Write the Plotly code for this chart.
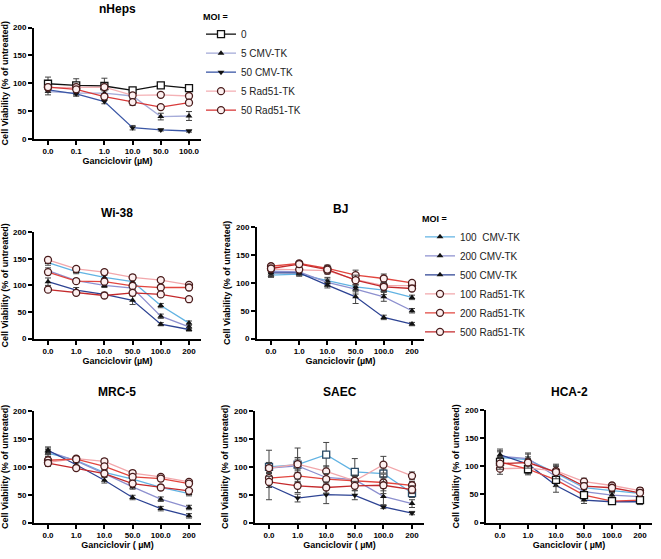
import plotly.graph_objects as go

W, H = 661, 559
FONT = "Liberation Sans, Arial, sans-serif"

# ---------------- data ----------------
nheps_x = ["0.0", "0.1", "1.0", "10.0", "50.0", "100.0"]
gcv_x = ["0.0", "1.0", "10.0", "50.0", "100.0", "200"]
y_ticks = [0, 50, 100, 150, 200]

nheps_names = ["0", "5 CMV-TK", "50 CMV-TK", "5 Rad51-TK", "50 Rad51-TK"]
moi_names = ["100  CMV-TK", "200 CMV-TK", "500 CMV-TK", "100 Rad51-TK", "200 Rad51-TK", "500 Rad51-TK"]

nheps_moi0 = [99, 96, 95, 87, 96, 91]
nheps_moi0_err = [12, 12, 14, 4, 3, 3]
nheps_cmv5 = [85, 82, 82, 77, 40, 41]
nheps_cmv5_err = [6, 5, 4, 4, 6, 8]
nheps_cmv50 = [88, 81, 67, 20, 16, 14]
nheps_cmv50_err = [4, 4, 4, 4, 2, 2]
nheps_rad5 = [92, 93, 93, 78, 79, 77]
nheps_rad5_err = [5, 5, 5, 5, 3, 3]
nheps_rad50 = [93, 89, 76, 66, 57, 65]
nheps_rad50_err = [5, 4, 5, 6, 3, 5]

wi38_cmv100 = [143, 126, 115, 107, 62, 29]
wi38_cmv200 = [128, 109, 100, 95, 42, 22]
wi38_cmv500 = [107, 91, 83, 72, 27, 17]
wi38_rad100 = [148, 131, 125, 115, 110, 101]
wi38_rad200 = [125, 108, 107, 99, 96, 96]
wi38_rad500 = [92, 86, 81, 86, 83, 74]
wi38_err = [5, 4, 4, 5, 4, 4]
wi38_cmv500_err = [7, 5, 4, 8, 3, 3]

bj_cmv100 = [114, 116, 104, 93, 87, 74]
bj_cmv200 = [121, 120, 101, 89, 75, 50]
bj_cmv500 = [118, 118, 96, 75, 38, 26]
bj_rad100 = [125, 124, 122, 106, 95, 95]
bj_rad200 = [130, 135, 126, 114, 108, 100]
bj_rad500 = [126, 134, 124, 105, 93, 90]
bj_err = [4, 4, 6, 9, 8, 4]
bj_cmv500_err = [5, 4, 5, 12, 4, 3]

mrc5_cmv100 = [125, 112, 90, 78, 63, 52]
mrc5_cmv200 = [128, 111, 88, 64, 42, 27]
mrc5_cmv500 = [130, 104, 76, 45, 25, 12]
mrc5_rad100 = [108, 115, 110, 89, 82, 73]
mrc5_rad200 = [112, 114, 101, 82, 79, 70]
mrc5_rad500 = [107, 98, 88, 70, 63, 57]
mrc5_err = [6, 4, 5, 4, 4, 4]

saec_cmv100 = [100, 104, 122, 91, 88, 53]
saec_cmv200 = [98, 102, 81, 77, 47, 34]
saec_cmv500 = [67, 44, 50, 49, 28, 17]
saec_rad100 = [98, 105, 92, 75, 104, 84]
saec_rad200 = [80, 84, 78, 75, 72, 67]
saec_rad500 = [73, 66, 63, 66, 67, 59]
saec_cmv100_err = [30, 30, 22, 24, 8, 8]
saec_cmv500_err = [26, 7, 16, 8, 3, 3]
saec_err = [10, 12, 10, 8, 15, 7]

hca2_cmv100 = [116, 112, 88, 62, 57, 52]
hca2_cmv200 = [118, 114, 82, 55, 49, 46]
hca2_cmv500 = [121, 104, 66, 40, 37, 37]
hca2_rad100 = [96, 97, 92, 73, 66, 57]
hca2_rad200 = [108, 95, 76, 49, 38, 40]
hca2_rad500 = [105, 107, 90, 65, 62, 53]
hca2_err = [10, 10, 12, 6, 4, 5]

# ---------------- styles ----------------
C_CMV100 = "#62b3e3"
C_CMV200 = "#8d90cf"
C_CMV500 = "#2d4393"
C_RAD100 = "#f2a7ab"
C_RAD200 = "#e2463f"
C_RAD500 = "#c42a2c"

TRI_UP = dict(symbol="triangle-up", size=6, color="#111111", line=dict(width=0))
TRI_DN = dict(symbol="triangle-down", size=6, color="#111111", line=dict(width=0))
CIRC = dict(symbol="circle", size=7, color="#fdf0f0", line=dict(width=1.3, color="#4a1c1c"))
SQR = dict(symbol="square", size=7, color="#ffffff", line=dict(width=1.3, color="#111111"))
SQR_C = dict(symbol="square", size=7, color="#ffffff", line=dict(width=1.3, color="#2a4a66"))

# panel boxes in pixels: left, right, top(200), bottom(0)
panels = [
    dict(title="nHeps", box=(34, 201, 24, 137), x=nheps_x, xtitle="Ganciclovir (µM)"),
    dict(title="Wi-38", box=(34, 201, 232, 340), x=gcv_x, xtitle="Ganciclovir (µM)"),
    dict(title="BJ", box=(257, 424, 227, 340), x=gcv_x, xtitle="Ganciclovir (µM)"),
    dict(title="MRC-5", box=(34, 201, 414, 527), x=gcv_x, xtitle="Ganciclovir ( µM)"),
    dict(title="SAEC", box=(255, 424, 414, 527), x=gcv_x, xtitle="Ganciclovir ( µM)"),
    dict(title="HCA-2", box=(486, 652, 413, 527), x=gcv_x, xtitle="Ganciclovir ( µM)"),
]

series = [
    [(nheps_names[0], nheps_moi0, nheps_moi0_err, "#111111", SQR),
     (nheps_names[1], nheps_cmv5, nheps_cmv5_err, "#a6acd9", TRI_UP),
     (nheps_names[2], nheps_cmv50, nheps_cmv50_err, "#3b57a6", TRI_DN),
     (nheps_names[3], nheps_rad5, nheps_rad5_err, "#f4b1b5", CIRC),
     (nheps_names[4], nheps_rad50, nheps_rad50_err, "#d83a3a", CIRC)],
    [(moi_names[0], wi38_cmv100, wi38_err, C_CMV100, TRI_UP),
     (moi_names[1], wi38_cmv200, wi38_err, C_CMV200, TRI_UP),
     (moi_names[2], wi38_cmv500, wi38_cmv500_err, C_CMV500, TRI_UP),
     (moi_names[3], wi38_rad100, wi38_err, C_RAD100, CIRC),
     (moi_names[4], wi38_rad200, wi38_err, C_RAD200, CIRC),
     (moi_names[5], wi38_rad500, wi38_err, C_RAD500, CIRC)],
    [(moi_names[0], bj_cmv100, bj_err, C_CMV100, TRI_UP),
     (moi_names[1], bj_cmv200, bj_err, C_CMV200, TRI_UP),
     (moi_names[2], bj_cmv500, bj_cmv500_err, C_CMV500, TRI_UP),
     (moi_names[3], bj_rad100, bj_err, C_RAD100, CIRC),
     (moi_names[4], bj_rad200, bj_err, C_RAD200, CIRC),
     (moi_names[5], bj_rad500, bj_err, C_RAD500, CIRC)],
    [(moi_names[0], mrc5_cmv100, mrc5_err, C_CMV100, TRI_UP),
     (moi_names[1], mrc5_cmv200, mrc5_err, C_CMV200, TRI_UP),
     (moi_names[2], mrc5_cmv500, mrc5_err, C_CMV500, TRI_UP),
     (moi_names[3], mrc5_rad100, mrc5_err, C_RAD100, CIRC),
     (moi_names[4], mrc5_rad200, mrc5_err, C_RAD200, CIRC),
     (moi_names[5], mrc5_rad500, mrc5_err, C_RAD500, CIRC)],
    [(moi_names[0], saec_cmv100, saec_cmv100_err, C_CMV100, SQR_C),
     (moi_names[1], saec_cmv200, saec_err, C_CMV200, TRI_UP),
     (moi_names[2], saec_cmv500, saec_cmv500_err, C_CMV500, TRI_DN),
     (moi_names[3], saec_rad100, saec_err, C_RAD100, CIRC),
     (moi_names[4], saec_rad200, saec_err, C_RAD200, CIRC),
     (moi_names[5], saec_rad500, saec_err, C_RAD500, CIRC)],
    [(moi_names[0], hca2_cmv100, hca2_err, C_CMV100, TRI_UP),
     (moi_names[1], hca2_cmv200, hca2_err, C_CMV200, TRI_UP),
     (moi_names[2], hca2_cmv500, hca2_err, C_CMV500, TRI_UP),
     (moi_names[3], hca2_rad100, hca2_err, C_RAD100, CIRC),
     (moi_names[4], hca2_rad200, hca2_err, C_RAD200, SQR),
     (moi_names[5], hca2_rad500, hca2_err, C_RAD500, CIRC)],
]

fig = go.Figure()
layout = {}
annotations = []

for i, (p, ser) in enumerate(zip(panels, series), start=1):
    xa = "x" if i == 1 else f"x{i}"
    ya = "y" if i == 1 else f"y{i}"
    xkey = "xaxis" if i == 1 else f"xaxis{i}"
    ykey = "yaxis" if i == 1 else f"yaxis{i}"
    left, right, top, bottom = p["box"]
    span = (right - left - 14 - 12) / 5.0
    xr = [-14 / span, 5 + 12 / span]
    layout[xkey] = dict(
        domain=[left / W, right / W], anchor=ya, type="category",
        categoryorder="array", categoryarray=p["x"], range=xr,
        showline=True, linecolor="#000", linewidth=2, ticks="outside",
        ticklen=4, tickwidth=1.5, tickcolor="#000", showgrid=False, zeroline=False,
        tickfont=dict(family=FONT, size=8, color="#000", weight="bold"),
        title=dict(text=p["xtitle"], font=dict(family=FONT, size=9, color="#000", weight="bold"), standoff=2),
    )
    layout[ykey] = dict(
        domain=[1 - bottom / H, 1 - top / H], anchor=xa, range=[0, 200],
        tickmode="array", tickvals=y_ticks,
        showline=True, linecolor="#000", linewidth=2, ticks="outside",
        ticklen=4, tickwidth=1.5, tickcolor="#000", showgrid=False, zeroline=False,
        tickfont=dict(family=FONT, size=8, color="#000", weight="bold"),
        title=dict(text="Cell Viability (% of untreated)", font=dict(family=FONT, size=9, color="#000", weight="bold"), standoff=4),
    )
    annotations.append(dict(
        text=p["title"], xref="paper", yref="paper",
        x=(left + right) / 2 / W, y=1 - (top - 10) / H, xanchor="center", yanchor="bottom",
        showarrow=False, font=dict(family=FONT, size=12, color="#000", weight="bold"),
    ))
    for name, vals, err, col, mk in ser:
        show = i in (1, 3)
        fig.add_trace(go.Scatter(
            x=p["x"], y=vals, name=name, mode="lines+markers",
            xaxis=xa, yaxis=ya,
            line=dict(color=col, width=1.3), marker=mk,
            error_y=dict(type="data", array=err, color="#444", thickness=1, width=3),
            showlegend=show, legend="legend" if i == 1 else "legend2",
            cliponaxis=False,
        ))

legend_common = dict(
    font=dict(family=FONT, size=10, color="#222"),
    bgcolor="rgba(0,0,0,0)", itemwidth=30, tracegroupgap=0,
    xanchor="left", yanchor="top",
)
layout["legend"] = dict(x=201 / W, y=1 - 4 / H,
                        title=dict(text="MOI =", font=dict(family=FONT, size=9, color="#000", weight="bold")),
                        **legend_common)
layout["legend2"] = dict(x=420 / W, y=1 - 210 / H,
                         title=dict(text="MOI =", font=dict(family=FONT, size=9, color="#000", weight="bold")),
                         **legend_common)

fig.update_layout(
    width=W, height=H, margin=dict(l=0, r=0, t=0, b=0),
    paper_bgcolor="white", plot_bgcolor="white",
    font=dict(family=FONT, color="#000"),
    annotations=annotations, **layout,
)

fig.write_html(
    "out.html",
    config={"displayModeBar": False},
    post_script="document.body.style.margin='0';document.body.style.padding='0';document.body.style.overflow='hidden';",
)
